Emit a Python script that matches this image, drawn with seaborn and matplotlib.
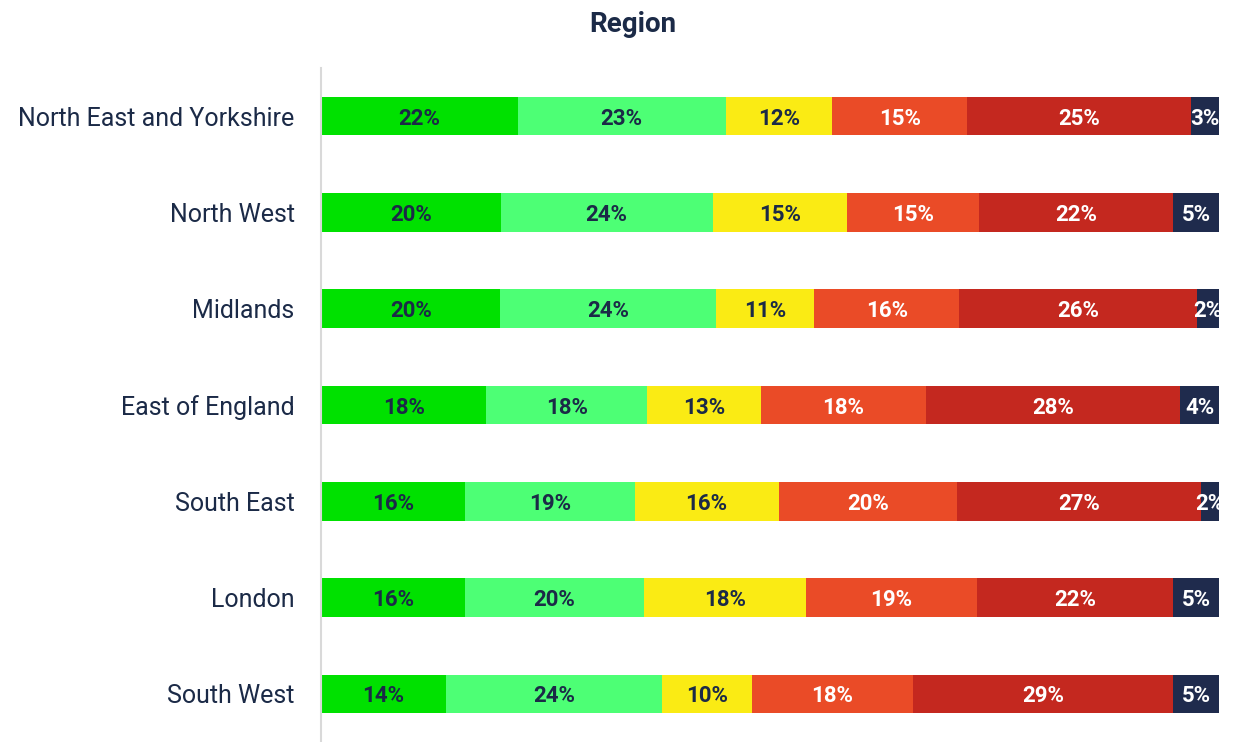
import numpy as np
import pandas as pd
import matplotlib
matplotlib.use("Agg")
import matplotlib.pyplot as plt
import seaborn as sns

# regions from top to bottom
regions = ["North East and Yorkshire", "North West", "Midlands", "East of England",
           "South East", "London", "South West"]
# response bands (not named on the chart), left to right
bands = ["band_1", "band_2", "band_3", "band_4", "band_5", "band_6"]
band_colors = ["#00e100", "#4dff75", "#faeb14", "#ea4b27", "#c4281f", "#1f2b4d"]
label_colors = ["#1b2a47", "#1b2a47", "#1b2a47", "white", "white", "white"]

# percentage shares per region, one list per band
band_1 = [21.9, 20.0, 19.9, 18.4, 16.0, 16.0, 13.9]
band_2 = [23.1, 23.6, 23.9, 17.9, 18.9, 19.9, 24.1]
band_3 = [11.9, 15.0, 10.9, 12.6, 16.0, 18.0, 10.0]
band_4 = [15.0, 14.7, 16.1, 18.4, 19.9, 19.0, 17.9]
band_5 = [24.9, 21.6, 26.4, 28.3, 27.1, 21.8, 29.0]
band_6 = [3.1, 5.1, 2.4, 4.3, 2.0, 5.1, 5.1]

TEXT = "#1b2a47"

shares = pd.DataFrame([band_1, band_2, band_3, band_4, band_5, band_6],
                      index=bands, columns=regions).T
labels = shares.copy()
# each row drawn as a full 100% bar
shares = shares.div(shares.sum(axis=1), axis=0) * 100
cum = shares.cumsum(axis=1)

sns.set_style("white")
plt.rcParams["font.family"] = ["Roboto", "DejaVu Sans"]

fig = plt.figure(figsize=(12.56, 7.42), dpi=100)
ax = fig.add_axes([321 / 1256, 0.0, (1219 - 321) / 1256, 1 - 68 / 742])

# stacked bars: draw cumulative totals from the widest down
for band, color in reversed(list(zip(bands, band_colors))):
    d = pd.DataFrame({"region": regions, "value": cum[band].values})
    sns.barplot(data=d, x="value", y="region", order=regions, color=color,
                saturation=1, width=0.4, errorbar=None, linewidth=0, ax=ax)

# percentage labels in the middle of each segment
for i, region in enumerate(regions):
    for band, tc in zip(bands, label_colors):
        v = shares.loc[region, band]
        mid = cum.loc[region, band] - v / 2
        t = ax.text(mid, i, f"{labels.loc[region, band]:.0f}%",
                    ha="center", va="center_baseline",
                    fontsize=16, fontweight="bold", color=tc)
        t.set_clip_path(ax.patch)

ax.set_xlim(0, 100)
ax.set_ylim(6.5, -0.5)
ax.set_xlabel("")
ax.set_ylabel("")
ax.set_xticks([])
ax.tick_params(axis="y", length=0, pad=19, labelsize=18, labelcolor=TEXT)
for side in ["top", "right", "bottom"]:
    ax.spines[side].set_visible(False)
ax.spines["left"].set_color("#d9d9d9")
ax.spines["left"].set_linewidth(1.5)

fig.text(633 / 1256, 1 - 24 / 742, "Region", ha="center", va="center",
         fontsize=20, fontweight="bold", color=TEXT)

fig.savefig("out.png", dpi=100)
